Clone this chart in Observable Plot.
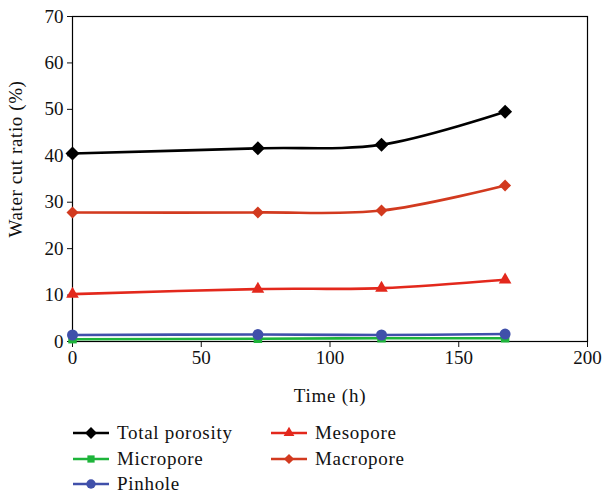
<!DOCTYPE html>
<html>
<head>
<meta charset="utf-8">
<script src="https://cdn.jsdelivr.net/npm/d3@7"></script>
<script src="https://cdn.jsdelivr.net/npm/@observablehq/plot@0.6"></script>
<style>
  html, body { margin: 0; padding: 0; background: #fff; }
  #chart { width: 602px; }
  .legend { font-family: "Liberation Serif", serif; font-size: 19px; letter-spacing: 0.7px; color: #111;
    display: grid; grid-template-columns: 198px 200px; margin-left: 73px; margin-top: 11px; row-gap: 1.5px; }
  .item { display: flex; align-items: center; height: 24px; }
  .item svg { margin-right: 8px; }
</style>
</head>
<body>
<div id="chart"></div>
<script>
const time = [0, 72, 120, 168];
const totalPorosity = [40.5, 41.6, 42.4, 49.5];
const mesopore = [10.2, 11.3, 11.5, 13.3];
const macropore = [27.8, 27.8, 28.2, 33.6];
const micropore = [0.5, 0.6, 0.7, 0.7];
const pinhole = [1.4, 1.5, 1.4, 1.6];

const seriesNames = ["Total porosity", "Mesopore", "Micropore", "Macropore", "Pinhole"];
const seriesValues = [totalPorosity, mesopore, micropore, macropore, pinhole];
const colors = {"Total porosity": "#000000", "Mesopore": "#e3281c", "Micropore": "#1db43a", "Macropore": "#d23a1f", "Pinhole": "#4050aa"};
const symbols = {"Total porosity": "diamond2", "Mesopore": "triangle", "Micropore": "square", "Macropore": "diamond2", "Pinhole": "circle"};
const sizes = {"Total porosity": 6.3, "Mesopore": 4.7, "Micropore": 4.8, "Macropore": 5.4, "Pinhole": 5.5};

const rows = [];
seriesNames.forEach((name, i) => time.forEach((t, j) => rows.push({series: name, time: t, value: seriesValues[i][j]})));

const drawOrder = ["Micropore", "Pinhole", "Mesopore", "Macropore", "Total porosity"];
const marks = [Plot.frame({stroke: "#000", strokeWidth: 1.2})];
for (const name of drawOrder) {
  const d = rows.filter(r => r.series === name);
  marks.push(Plot.line(d, {x: "time", y: "value", stroke: colors[name], strokeWidth: 2.6, curve: "catmull-rom"}));
  marks.push(Plot.dot(d, {x: "time", y: "value", fill: colors[name], symbol: symbols[name], r: sizes[name], stroke: "none"}));
}

const chart = Plot.plot({
  width: 602, height: 410,
  marginLeft: 72, marginRight: 15, marginTop: 16, marginBottom: 69,
  style: {fontFamily: "Liberation Serif, serif", fontSize: "19px", color: "#111", background: "#fff"},
  x: {domain: [0, 200], ticks: [0, 50, 100, 150, 200], label: "Time (h)", labelAnchor: "center", labelOffset: 60, tickSize: 6, tickPadding: 3, labelArrow: "none"},
  y: {domain: [0, 70], ticks: d3.range(0, 71, 10), label: "Water cut ratio (%)", labelAnchor: "center", labelOffset: 64, tickSize: 5, tickPadding: 4, labelArrow: "none"},
  marks
});
// nudge the y-axis title upward to match the reference placement; widen titles slightly
d3.select(chart).selectAll('[aria-label="y-axis label"] text').attr("dx", "20").style("letter-spacing", "0.6px");
d3.select(chart).selectAll('[aria-label="x-axis label"] text').style("letter-spacing", "0.8px");
document.getElementById("chart").appendChild(chart);

// legend
const legendOrder = ["Total porosity", "Mesopore", "Micropore", "Macropore", "Pinhole"];
const symMap = {diamond2: d3.symbolDiamond2, triangle: d3.symbolTriangle, square: d3.symbolSquare, circle: d3.symbolCircle};
const leg = document.createElement("div");
leg.className = "legend";
for (const name of legendOrder) {
  const item = document.createElement("div");
  item.className = "item";
  const sw = d3.create("svg").attr("width", 36).attr("height", 16);
  sw.append("line").attr("x1", 0).attr("x2", 36).attr("y1", 8).attr("y2", 8).attr("stroke", colors[name]).attr("stroke-width", 2.6);
  const s = sizes[name] * 0.85;
  sw.append("path").attr("transform", "translate(18,8)")
    .attr("d", d3.symbol(symMap[symbols[name]], Math.PI * s * s)()).attr("fill", colors[name]);
  item.appendChild(sw.node());
  const span = document.createElement("span");
  span.textContent = name;
  item.appendChild(span);
  leg.appendChild(item);
}
document.getElementById("chart").appendChild(leg);
</script>
</body>
</html>
